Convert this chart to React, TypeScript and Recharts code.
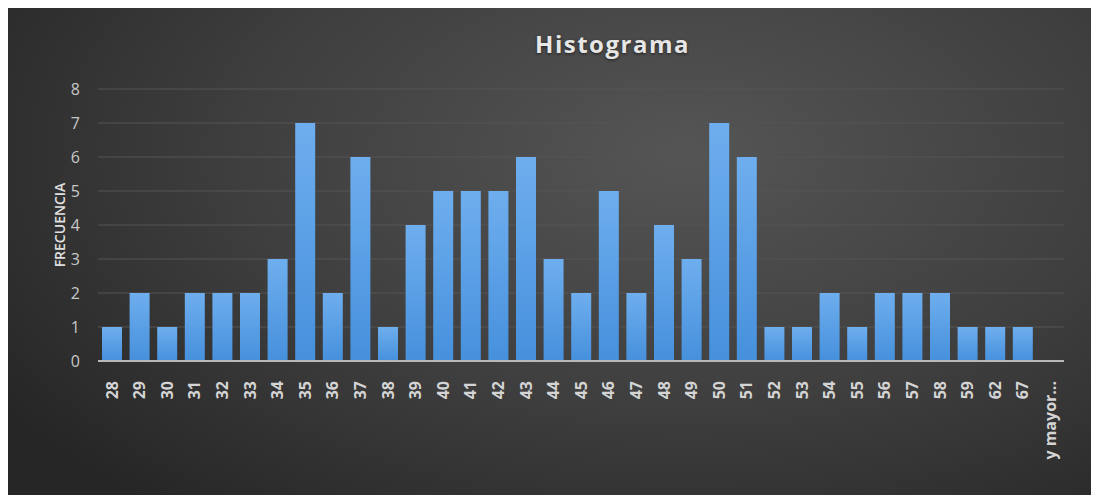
import { BarChart, Bar, XAxis, YAxis, CartesianGrid } from 'recharts'

const categories = [
  '28', '29', '30', '31', '32', '33', '34', '35', '36', '37', '38', '39',
  '40', '41', '42', '43', '44', '45', '46', '47', '48', '49', '50', '51',
  '52', '53', '54', '55', '56', '57', '58', '59', '62', '67', 'y mayor...',
]
const frequencies = [
  1, 2, 1, 2, 2, 2, 3, 7, 2, 6, 1, 4,
  5, 5, 5, 6, 3, 2, 5, 2, 4, 3, 7, 6,
  1, 1, 2, 1, 2, 2, 2, 1, 1, 1, 0,
]
const yTicks = [0, 1, 2, 3, 4, 5, 6, 7, 8]

const data = categories.map((label, i) => ({ label, value: frequencies[i] }))

const W = 1091
const H = 487

function XTick({ x, y, payload }: any) {
  return (
    <text
      x={x}
      y={y + 12}
      transform={`rotate(-90, ${x}, ${y + 12})`}
      textAnchor="end"
      dy="0.36em"
      fill="#d4d4d4"
      fontSize={16}
      fontWeight={700}
      fontFamily="'Open Sans', sans-serif"
    >
      {payload.value}
    </text>
  )
}

function YLabel({ viewBox }: any) {
  const cy = viewBox.y + viewBox.height / 2
  return (
    <text
      x={52}
      y={cy}
      transform={`rotate(-90, 52, ${cy})`}
      textAnchor="middle"
      dy="0.35em"
      fill="#e0e0e0"
      fontSize={14}
      fontWeight={600}
      fontFamily="'Open Sans', sans-serif"
    >
      FRECUENCIA
    </text>
  )
}

export default function App() {
  return (
    <div
      style={{
        position: 'relative',
        width: W,
        height: H,
        background: 'radial-gradient(ellipse 75% 95% at 62% 30%, #555555 0%, #3e3e3e 55%, #262626 100%)',
      }}
    >
      <div
        style={{
          position: 'absolute',
          top: 19,
          left: 0,
          width: W,
          textAlign: 'center',
          paddingLeft: 118,
          boxSizing: 'border-box',
          color: '#e6e6e6',
          fontFamily: "'Open Sans', sans-serif",
          fontSize: 24,
          fontWeight: 700,
          letterSpacing: 1.5,
          textShadow: '0 1px 3px rgba(0,0,0,0.6)',
        }}
      >
        Histograma
      </div>
      <BarChart
        width={W}
        height={H}
        data={data}
        margin={{ top: 81, right: 35, left: 0, bottom: 0 }}
        barSize={20}
        style={{ position: 'absolute', top: 0, left: 0 }}
      >
        <defs>
          <linearGradient id="barFill" x1="0" y1="0" x2="0" y2="1">
            <stop offset="0%" stopColor="#6eaeee" />
            <stop offset="100%" stopColor="#4690dc" />
          </linearGradient>
        </defs>
        <CartesianGrid vertical={false} stroke="#555555" strokeWidth={1} />
        <XAxis
          dataKey="label"
          interval={0}
          height={134}
          tickLine={false}
          axisLine={{ stroke: '#b8b8b8', strokeWidth: 2 }}
          tick={<XTick />}
        />
        <YAxis
          width={90}
          domain={[0, 8]}
          ticks={yTicks}
          interval={0}
          axisLine={false}
          tickLine={false}
          tickMargin={12}
          tick={{ fill: '#c8c8c8', fontSize: 16, fontFamily: "'Open Sans', sans-serif" }}
          label={<YLabel />}
        />
        <Bar dataKey="value" fill="url(#barFill)" isAnimationActive={false} />
      </BarChart>
    </div>
  )
}
